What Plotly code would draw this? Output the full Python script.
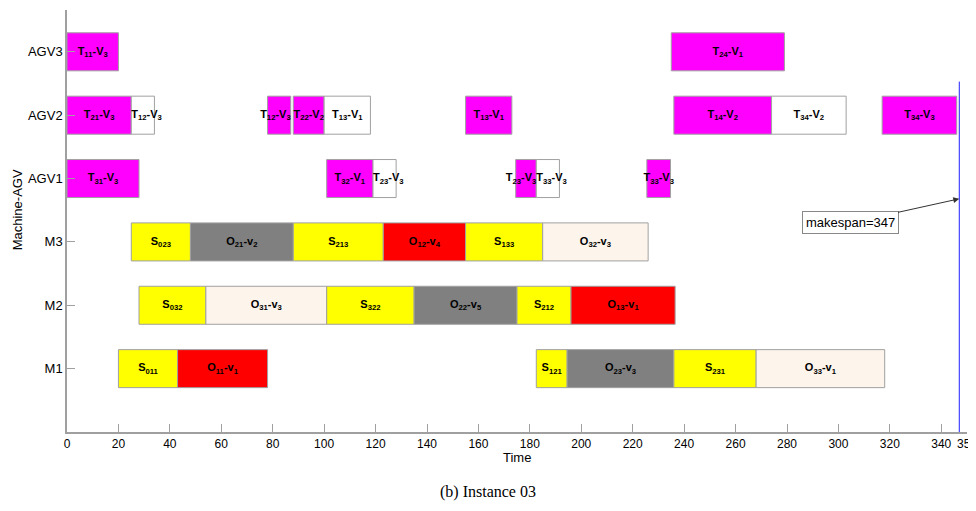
import plotly.graph_objects as go

# ---- data ----
row_names = ["M1", "M2", "M3", "AGV1", "AGV2", "AGV3"]
row_pos = [1, 2, 3, 4, 5, 6]

task_rows = [
    "AGV3", "AGV3",
    "AGV2", "AGV2", "AGV2", "AGV2", "AGV2", "AGV2", "AGV2", "AGV2", "AGV2",
    "AGV1", "AGV1", "AGV1", "AGV1", "AGV1", "AGV1",
    "M3", "M3", "M3", "M3", "M3", "M3",
    "M2", "M2", "M2", "M2", "M2", "M2",
    "M1", "M1", "M1", "M1", "M1", "M1",
]
task_start = [
    0, 235,
    0, 25, 78, 88, 100, 155, 236, 274, 317,
    0, 101, 119, 174.5, 182.5, 225.5,
    25, 48, 88, 123, 155, 185,
    28, 54, 101, 135, 175, 196,
    20, 43, 182.5, 194.5, 236, 268,
]
task_end = [
    20, 279,
    25, 34, 87, 100, 118, 173, 274, 303, 346,
    28, 119, 128, 182.5, 191.5, 234.7,
    48, 88, 123, 155, 185, 226,
    54, 101, 135, 175, 196, 236.5,
    43, 78, 194.5, 236, 268, 318,
]
task_labels = [
    "T<sub>11</sub>-V<sub>3</sub>", "T<sub>24</sub>-V<sub>1</sub>",
    "T<sub>21</sub>-V<sub>3</sub>", "T<sub>12</sub>-V<sub>3</sub>", "T<sub>12</sub>-V<sub>3</sub>",
    "T<sub>22</sub>-V<sub>2</sub>", "T<sub>13</sub>-V<sub>1</sub>", "T<sub>13</sub>-V<sub>1</sub>",
    "T<sub>14</sub>-V<sub>2</sub>", "T<sub>34</sub>-V<sub>2</sub>", "T<sub>34</sub>-V<sub>3</sub>",
    "T<sub>31</sub>-V<sub>3</sub>", "T<sub>32</sub>-V<sub>1</sub>", "T<sub>23</sub>-V<sub>3</sub>",
    "T<sub>23</sub>-V<sub>3</sub>", "T<sub>33</sub>-V<sub>3</sub>", "T<sub>33</sub>-V<sub>3</sub>",
    "S<sub>023</sub>", "O<sub>21</sub>-v<sub>2</sub>", "S<sub>213</sub>",
    "O<sub>12</sub>-v<sub>4</sub>", "S<sub>133</sub>", "O<sub>32</sub>-v<sub>3</sub>",
    "S<sub>032</sub>", "O<sub>31</sub>-v<sub>3</sub>", "S<sub>322</sub>",
    "O<sub>22</sub>-v<sub>5</sub>", "S<sub>212</sub>", "O<sub>13</sub>-v<sub>1</sub>",
    "S<sub>011</sub>", "O<sub>11</sub>-v<sub>1</sub>", "S<sub>121</sub>",
    "O<sub>23</sub>-v<sub>3</sub>", "S<sub>231</sub>", "O<sub>33</sub>-v<sub>1</sub>",
]
task_kind = [
    "load", "load",
    "load", "empty", "load", "load", "empty", "load", "load", "empty", "load",
    "load", "load", "empty", "load", "empty", "load",
    "setup", "gray", "setup", "red", "setup", "beige",
    "setup", "beige", "setup", "gray", "setup", "red",
    "setup", "red", "setup", "gray", "setup", "beige",
]
x_ticks = [0, 20, 40, 60, 80, 100, 120, 140, 160, 180, 200, 220, 240, 260, 280, 300, 320, 340, 350]
makespan = 347

# ---- styles ----
# label alignment inside the bar: c = centred, l = from bar start, r = ending at bar end
label_align = [
    "c", "c",
    "c", "l", "r", "c", "c", "c", "c", "c", "c",
    "c", "c", "l", "r", "l", "c",
    "c", "c", "c", "c", "c", "c",
    "c", "c", "c", "c", "c", "c",
    "c", "c", "c", "c", "c", "c",
]
kind_color = {
    "load": "#FF00FF",
    "empty": "#FFFFFF",
    "setup": "#FFFF00",
    "gray": "#808080",
    "red": "#FF0000",
    "beige": "#FDF5EC",
}
row_map = dict(zip(row_names, row_pos))
ys = [row_map[r] for r in task_rows]
durs = [e - s for s, e in zip(task_start, task_end)]
colors = [kind_color[k] for k in task_kind]
lab_x = []
lab_pos = []
for s, e, a in zip(task_start, task_end, label_align):
    if a == "l":
        lab_x.append(s)
        lab_pos.append("middle right")
    elif a == "r":
        lab_x.append(e)
        lab_pos.append("middle left")
    else:
        lab_x.append((s + e) / 2)
        lab_pos.append("middle center")

FONT = "Liberation Sans, Arial, sans-serif"

fig = go.Figure()
fig.add_trace(go.Bar(
    orientation="h", y=ys, x=durs, base=task_start, width=0.6,
    marker=dict(color=colors, line=dict(color="#A0A0A0", width=1)),
    showlegend=False, hoverinfo="skip",
))
fig.add_trace(go.Scatter(
    x=lab_x, y=ys, mode="text", text=task_labels, textposition=lab_pos,
    textfont=dict(family=FONT, size=11, color="black", weight="bold"),
    cliponaxis=False, showlegend=False, hoverinfo="skip",
))

fig.add_shape(type="line", x0=makespan, x1=makespan, y0=0, y1=5.53,
              xref="x", yref="y", line=dict(color="#2020FF", width=1))

fig.add_annotation(
    x=makespan, y=3.68, xref="x", yref="y",
    ax=304.5, ay=3.30, axref="x", ayref="y",
    text="makespan=347", showarrow=True, arrowhead=2, arrowsize=1.2, arrowwidth=1,
    arrowcolor="#333333", bordercolor="#888888", borderwidth=1, borderpad=3,
    bgcolor="white", font=dict(family=FONT, size=13, color="black"),
)

fig.add_annotation(x=0.5, y=-0.061, xref="paper", yref="paper", text="Time",
                   showarrow=False, yanchor="middle",
                   font=dict(family=FONT, size=13, color="black"))
fig.add_annotation(x=-0.055, y=0.5265, xref="paper", yref="paper", text="Machine-AGV",
                   showarrow=False, textangle=-90, xanchor="center", yanchor="middle",
                   font=dict(family=FONT, size=13, color="black"))
fig.add_annotation(x=0.468, y=-0.141, xref="paper", yref="paper", text="(b) Instance 03",
                   showarrow=False, yanchor="middle",
                   font=dict(family="Liberation Serif, Times New Roman, serif", size=16, color="black"))

# the page body has an 8px margin, so the figure is sized/offset to compensate
fig.update_layout(
    width=960, height=495,
    margin=dict(l=59, r=1, t=2, b=71),
    plot_bgcolor="white", paper_bgcolor="white",
    barmode="overlay",
    xaxis=dict(range=[0, 350], tickvals=x_ticks, ticks="inside", ticklen=8,
               tickcolor="#A0A0A0", showline=True, linecolor="#A0A0A0", linewidth=1.5,
               showgrid=False, zeroline=False, automargin=False,
               ticklabeloverflow="allow",
               tickfont=dict(family=FONT, size=12, color="black")),
    yaxis=dict(range=[0, 6.66], tickvals=row_pos, ticktext=row_names, ticks="inside",
               ticklen=8, tickcolor="#A0A0A0", showline=True, linecolor="#A0A0A0",
               linewidth=1.5, showgrid=False, zeroline=False, automargin=False,
               tickfont=dict(family=FONT, size=13, color="black")),
)

fig.write_html("out.html")
